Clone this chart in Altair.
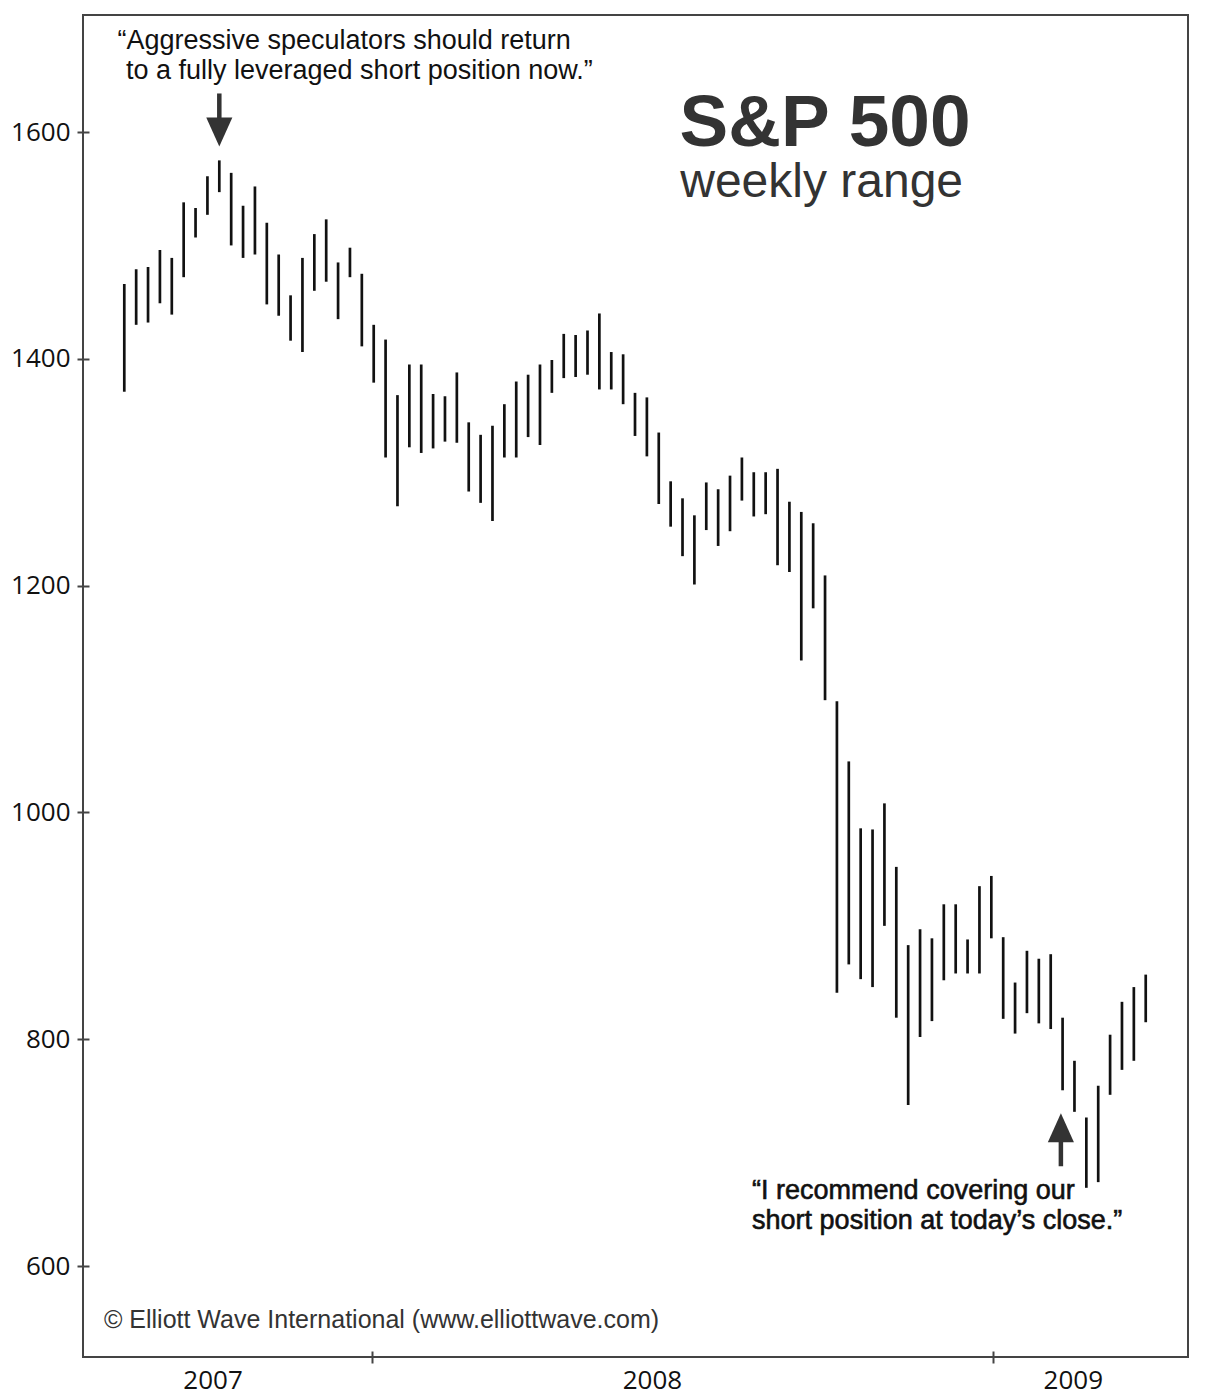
import altair as alt
import pandas as pd

# S&P 500 weekly high/low, mid-Aug 2007 to early Apr 2009
weeks = pd.date_range("2007-08-08", periods=87, freq="7D").strftime("%Y-%m-%d").tolist()
highs = [1466, 1479, 1481, 1496, 1489, 1538, 1533, 1561, 1575, 1564,
         1535, 1552, 1520, 1492, 1456, 1489, 1510, 1523, 1485, 1498,
         1475, 1430, 1417, 1368, 1395, 1395, 1369, 1367, 1388, 1344,
         1333, 1341, 1360, 1380, 1386, 1395, 1399, 1422, 1421, 1425,
         1440, 1406, 1404, 1370, 1366, 1335, 1292, 1277, 1262, 1291,
         1285, 1297, 1313, 1300, 1300, 1303, 1274, 1265, 1255, 1209,
         1098, 1045, 986, 985, 1008, 952, 883, 897, 889, 919,
         919, 888, 935, 944, 890, 850, 878, 871, 875, 819,
         781, 731, 759, 804, 833, 846, 857]
lows = [1371, 1430, 1432, 1449, 1439, 1472, 1507, 1527, 1547, 1500,
        1489, 1492, 1448, 1438, 1416, 1406, 1460, 1468, 1435, 1472,
        1411, 1379, 1313, 1270, 1322, 1317, 1321, 1327, 1326, 1283,
        1273, 1257, 1313, 1313, 1331, 1324, 1370, 1383, 1384, 1386,
        1373, 1373, 1360, 1332, 1314, 1272, 1252, 1226, 1201, 1249,
        1235, 1248, 1275, 1261, 1263, 1218, 1212, 1134, 1180, 1099,
        841, 866, 853, 846, 900, 819, 742, 802, 816, 852,
        858, 858, 858, 889, 818, 805, 823, 814, 809, 755,
        736, 669, 674, 751, 773, 781, 815]

y_ticks = [600, 800, 1000, 1200, 1400, 1600]
year_ticks = ["2008-01-01", "2009-01-01"]                      # year boundaries
year_label_dates = ["2007-09-29", "2008-06-14", "2009-02-17"]   # where the year names sit

# quotes and credit line: anchor date, price level, text
top_quote_dates = ["2007-08-04", "2007-08-09"]
top_quote_levels = [1680, 1654]
top_quote_text = ["\u201cAggressive speculators should return",
                  "to a fully leveraged short position now.\u201d"]
low_quote_dates = ["2008-08-12", "2008-08-12"]
low_quote_levels = [666, 640]
low_quote_text = ["\u201cI recommend covering our",
                  "short position at today\u2019s close.\u201d"]
credit_date, credit_level = "2007-07-27", 552
credit_text = "\u00a9 Elliott Wave International (www.elliottwave.com)"

title_dates = ["2008-09-24", "2008-09-22"]
title_levels = [1588, 1543]
title_text = ["S&P 500", "weekly range"]

# arrows: date, tail end of shaft, neck, centre of the head
arrow_dates = ["2007-10-03", "2009-02-10"]
arrow_tail = [1634, 688]
arrow_neck = [1611, 716]
arrow_head = [1600, 722]
arrow_shape = ["M -0.9 -1 L 0.9 -1 L 0 1 Z", "M 0 -1 L 0.9 1 L -0.9 1 Z"]

W, H = 1105, 1342
INK = "#444444"


def dt(s):
    t = pd.Timestamp(s)
    return alt.DateTime(year=t.year, month=t.month, date=t.day, utc=True)


is_tick = "utcmonth(datum.value) == 0 && utcdate(datum.value) == 1"

x_scale = alt.Scale(type="utc", domain=[
    alt.DateTime(year=2007, month=7, date=14, hours=16, utc=True),
    alt.DateTime(year=2009, month=4, date=25, hours=22, utc=True)])
y_scale = alt.Scale(domain=[519.8, 1703.2], nice=False, zero=False)

x_axis = alt.Axis(
    values=[dt(d) for d in year_ticks + year_label_dates],
    labelExpr=f"({is_tick}) ? '' : utcFormat(datum.value, '%Y')",
    tickOpacity={"condition": {"test": is_tick, "value": 1}, "value": 0},
    gridOpacity={"condition": {"test": is_tick, "value": 1}, "value": 0},
    grid=True, gridDash=[6, H - 6], gridDashOffset=6, gridColor=INK, gridWidth=2,
    tickSize=6, tickWidth=2, tickColor=INK, domain=False,
    labelFont="Open Sans", labelFontSize=26, labelColor="#111", labelPadding=4,
    labelOverlap=False, labelFlush=False, title=None)

y_axis = alt.Axis(
    values=y_ticks, format="d",
    grid=True, gridDash=[6, W - 6], gridColor=INK, gridWidth=2,
    tickSize=6, tickWidth=2, tickColor=INK, domain=False,
    labelFont="Open Sans", labelFontSize=26, labelColor="#111", labelPadding=7,
    title=None)


def X():
    return alt.X("date:T", scale=x_scale, axis=x_axis)


def Y(field):
    return alt.Y(f"{field}:Q", scale=y_scale, axis=y_axis)


def text_layer(dates, levels, texts, **style):
    df = pd.DataFrame({"date": dates, "level": levels, "text": texts})
    return alt.Chart(df).mark_text(font="Liberation Sans", **style).encode(
        x=X(), y=Y("level"), text="text:N")


bars_df = pd.DataFrame({"date": weeks, "high": highs, "low": lows})
bars = alt.Chart(bars_df).mark_rule(color="#111", strokeWidth=2.7).encode(
    x=X(), y=Y("low"), y2="high")

arrows_df = pd.DataFrame({"date": arrow_dates, "tail": arrow_tail, "neck": arrow_neck,
                          "head": arrow_head, "shape": arrow_shape})
shafts = alt.Chart(arrows_df).mark_rule(color="#333", strokeWidth=4.5).encode(
    x=X(), y=Y("tail"), y2="neck")
heads = alt.Chart(arrows_df).mark_point(filled=True, opacity=1, color="#333", size=841).encode(
    x=X(), y=Y("head"), shape=alt.Shape("shape:N", scale=None))

top_quote = text_layer(top_quote_dates, top_quote_levels, top_quote_text,
                       align="left", baseline="middle", fontSize=27, color="#111")
low_quote = text_layer(low_quote_dates, low_quote_levels, low_quote_text,
                       align="left", baseline="middle", fontSize=27, color="#111",
                       stroke="#111", strokeWidth=0.6)
credit = text_layer([credit_date], [credit_level], [credit_text],
                    align="left", baseline="middle", fontSize=25, color="#333")
title_big = text_layer(title_dates[:1], title_levels[:1], title_text[:1],
                       align="center", baseline="alphabetic", fontSize=73,
                       fontWeight="bold", color="#333")
title_small = text_layer(title_dates[1:], title_levels[1:], title_text[1:],
                         align="center", baseline="alphabetic", fontSize=48, color="#333")

chart = alt.layer(bars, shafts, heads, top_quote, low_quote, credit,
                  title_big, title_small).properties(
    width=W, height=H, autosize="none",
    padding={"left": 75, "top": 7, "right": 15, "bottom": 40},
).configure_view(stroke=INK, strokeWidth=2)

chart.save("out.html", embed_options={"renderer": "svg", "actions": False})
